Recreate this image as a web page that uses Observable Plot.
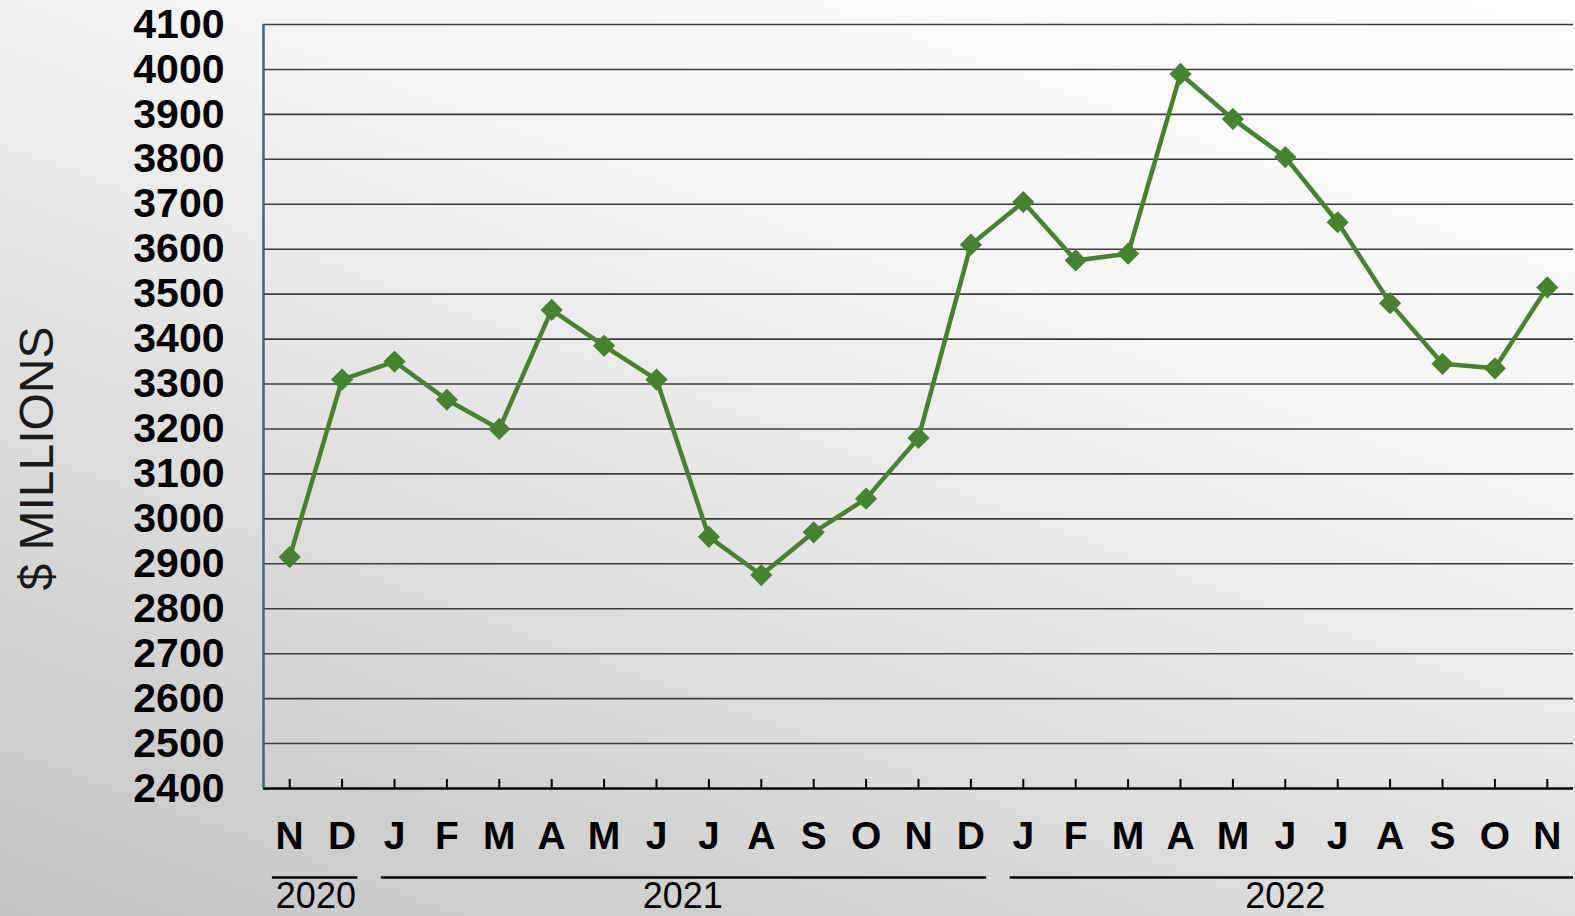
<!DOCTYPE html>
<html>
<head>
<meta charset="utf-8">
<script src="https://cdn.jsdelivr.net/npm/d3@7"></script>
<script src="https://cdn.jsdelivr.net/npm/@observablehq/plot@0.6"></script>
<style>
  html, body { margin: 0; padding: 0; width: 1575px; height: 916px; overflow: hidden; }
  body { background: linear-gradient(200deg, #ffffff 0%, #f4f4f4 35%, #d6d6d6 75%, #c4c4c4 100%); }
  #chart svg { display: block; background: transparent; font-family: "Liberation Sans", Arial, sans-serif; }
</style>
</head>
<body>
<div id="chart"></div>
<script>
const months = ["N","D","J","F","M","A","M","J","J","A","S","O","N","D","J","F","M","A","M","J","J","A","S","O","N"];
const values = [2915,3310,3350,3265,3200,3465,3385,3310,2960,2875,2970,3045,3180,3610,3705,3575,3590,3990,3890,3805,3660,3480,3345,3335,3515];
const years = ["2020","2021","2022"];
const yearMonthCounts = [2, 12, 11];
const yTicks = [2400,2500,2600,2700,2800,2900,3000,3100,3200,3300,3400,3500,3600,3700,3800,3900,4000,4100];

const data = months.map((m, i) => ({i, m, v: values[i]}));
let start = 0;
const yearSpans = years.map((y, k) => {
  const s = start, e = start + yearMonthCounts[k] - 1;
  start += yearMonthCounts[k];
  return {year: y, start: s, end: e, mid: (s + e) / 2};
});
const lastIndex = months.length - 1;

const W = 1575, H = 916, mT = 24, mB = 128;
const green = "#46832f";

const chart = Plot.plot({
  width: W,
  height: H,
  marginLeft: 263,
  marginRight: 2,
  marginTop: mT,
  marginBottom: mB,
  style: {background: "transparent", overflow: "visible"},
  x: {type: "linear", domain: [-0.5, months.length - 0.5], axis: null},
  y: {domain: [2400, 4100], axis: null},
  marks: [
    Plot.ruleY(yTicks.filter(t => t > 2400), {y: d => d, stroke: "#3c3c3c", strokeWidth: 1.6}),
    Plot.tickX(data, {x: "i", stroke: "#000", strokeWidth: 2, insetTop: H - mT - mB - 9}),
    Plot.ruleY([2400], {stroke: "#000", strokeWidth: 2.5}),
    Plot.ruleX([-0.5], {stroke: "#2f6e7d", strokeWidth: 2.5}),
    Plot.text(yTicks, {y: d => d, text: d => String(d), frameAnchor: "left", textAnchor: "end", dx: -39,
      fontSize: 41, fontWeight: "bold", fill: "#000", lineAnchor: "middle"}),
    Plot.text(data, {x: "i", y: () => 2400, text: "m", dy: 48, fontSize: 39, fontWeight: "bold", fill: "#000", lineAnchor: "middle"}),
    Plot.ruleY(yearSpans, {y: () => 2400,
      x1: d => d.start - (d.start === 0 ? 0.33 : 0.25),
      x2: d => d.end === lastIndex ? d.end + 0.5 : d.end + 0.3,
      dy: 89, stroke: "#000", strokeWidth: 2.5}),
    Plot.text(yearSpans, {x: "mid", y: () => 2400, text: "year", dy: 108, fontSize: 36, fill: "#000", lineAnchor: "middle"}),
    Plot.line(data, {x: "i", y: "v", stroke: green, strokeWidth: 4.5}),
    Plot.dot(data, {x: "i", y: "v", symbol: "diamond2", r: 10, fill: green, stroke: "none"}),
    Plot.text(["$ MILLIONS"], {frameAnchor: "left", text: d => d, rotate: -90, textAnchor: "middle",
      dx: -226, dy: 52, fontSize: 48, fill: "#1a1a1a", lineAnchor: "middle"})
  ]
});
document.getElementById("chart").appendChild(chart);
</script>
</body>
</html>
